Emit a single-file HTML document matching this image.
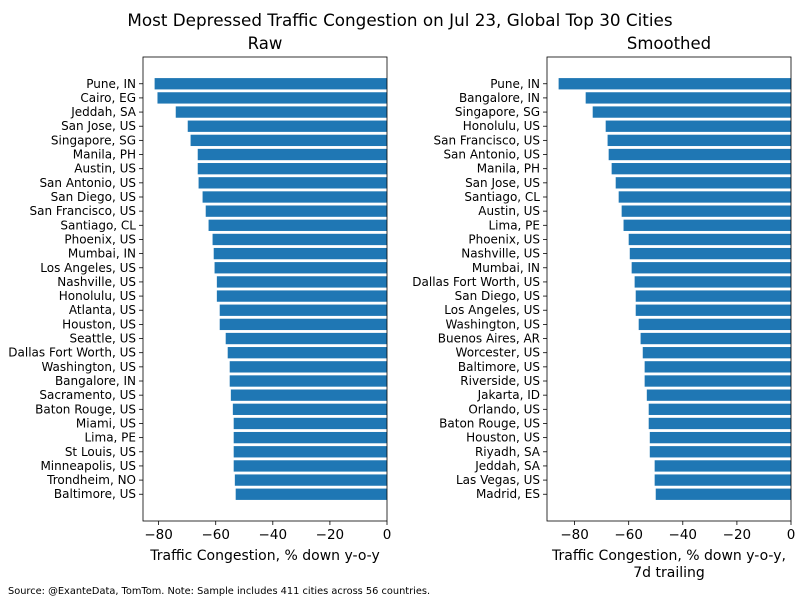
<!DOCTYPE html>
<html><head><meta charset="utf-8"><style>
body{margin:0;background:#fff;}
svg{display:block;font-family:"DejaVu Sans","Liberation Sans",sans-serif;}
</style></head><body>
<svg id="chart" width="800" height="600">
<text x="400" y="26" font-size="16.8" text-anchor="middle">Most Depressed Traffic Congestion on Jul 23, Global Top 30 Cities</text>
<text x="8" y="594" font-size="9.8">Source: @ExanteData, TomTom.   Note: Sample includes 411 cities across 56 countries.</text>
</svg>
<script>
const rawCities=["Pune, IN","Cairo, EG","Jeddah, SA","San Jose, US","Singapore, SG","Manila, PH","Austin, US","San Antonio, US","San Diego, US","San Francisco, US","Santiago, CL","Phoenix, US","Mumbai, IN","Los Angeles, US","Nashville, US","Honolulu, US","Atlanta, US","Houston, US","Seattle, US","Dallas Fort Worth, US","Washington, US","Bangalore, IN","Sacramento, US","Baton Rouge, US","Miami, US","Lima, PE","St Louis, US","Minneapolis, US","Trondheim, NO","Baltimore, US"];
const rawValues=[-81.4,-80.4,-74.0,-69.8,-68.8,-66.3,-66.3,-66.0,-64.6,-63.5,-62.5,-61.1,-60.7,-60.4,-59.6,-59.6,-58.6,-58.6,-56.5,-55.8,-55.1,-55.1,-54.7,-54.0,-53.7,-53.7,-53.7,-53.7,-53.3,-53.0];
const smCities=["Pune, IN","Bangalore, IN","Singapore, SG","Honolulu, US","San Francisco, US","San Antonio, US","Manila, PH","San Jose, US","Santiago, CL","Austin, US","Lima, PE","Phoenix, US","Nashville, US","Mumbai, IN","Dallas Fort Worth, US","San Diego, US","Los Angeles, US","Washington, US","Buenos Aires, AR","Worcester, US","Baltimore, US","Riverside, US","Jakarta, ID","Orlando, US","Baton Rouge, US","Houston, US","Riyadh, SA","Jeddah, SA","Las Vegas, US","Madrid, ES"];
const smValues=[-85.9,-75.9,-73.3,-68.5,-67.8,-67.4,-66.3,-64.8,-63.7,-62.6,-61.9,-60.0,-59.6,-58.9,-57.8,-57.4,-57.4,-56.3,-55.6,-54.8,-54.1,-54.1,-53.3,-52.6,-52.6,-52.2,-52.2,-50.4,-50.4,-50.0];
const xTicks=[-80,-60,-40,-20,0];
const tickLabels=["−80","−60","−40","−20","0"];

const svg=document.getElementById('chart');
const NS="http://www.w3.org/2000/svg";
function mk(tag,attrs,parent){const e=document.createElementNS(NS,tag);for(const k in attrs)e.setAttribute(k,attrs[k]);(parent||svg).appendChild(e);return e;}

function panel(key,cats,vals,left,right,title,xlabel){
  const top=57,bottom=521;
  const xmin=Math.min(...vals)*1.05, xmax=0;
  const x=v=>left+(v-xmin)/(xmax-xmin)*(right-left);
  const n=cats.length;
  const span=(n-0.2), marg=span*0.05;
  const lo=-0.4-marg, hi=n-0.6+marg;
  const step=(bottom-top)/(hi-lo);
  const y=i=>top+step*(i-lo);
  const g=mk('g',{});
  
  
  const t=mk('text',{x:(left+right)/2,y:49,'font-size':16.5,'text-anchor':'middle'},g);t.textContent=title;
  
  
  cats.forEach((c,i)=>{
    const v=vals[i];
    const r=mk('rect',{x:x(v),y:y(i)-step*0.4,width:x(0)-x(v),height:step*0.8,fill:'#1f77b4'},g);
    
    
    mk('line',{x1:left-4,x2:left,y1:y(i),y2:y(i),stroke:'#000','stroke-width':0.8},g);
    const l=mk('text',{x:left-7,y:y(i)+4,'font-size':12,'text-anchor':'end'},g);l.textContent=c;
    
    
  });
  const fr=mk('rect',{x:left,y:top,width:right-left,height:bottom-top,fill:'none',stroke:'#000','stroke-width':0.8},g);
  
  
  xTicks.forEach((tv,i)=>{
    mk('line',{x1:x(tv),x2:x(tv),y1:bottom,y2:bottom+4,stroke:'#000','stroke-width':0.8},g);
    const tl=mk('text',{x:x(tv),y:bottom+18,'font-size':13.5,'text-anchor':'middle'},g);tl.textContent=tickLabels[i];
    
    
  });
  xlabel.forEach((s,i)=>{
    const xl=mk('text',{x:(left+right)/2,y:560+i*17,'font-size':14,'text-anchor':'middle'},g);xl.textContent=s;
    
    
  });
}
panel('raw',rawCities,rawValues,143,387,'Raw',['Traffic Congestion, % down y-o-y']);
panel('smoothed',smCities,smValues,547,791,'Smoothed',['Traffic Congestion, % down y-o-y,','7d trailing']);
</script>
</body></html>
